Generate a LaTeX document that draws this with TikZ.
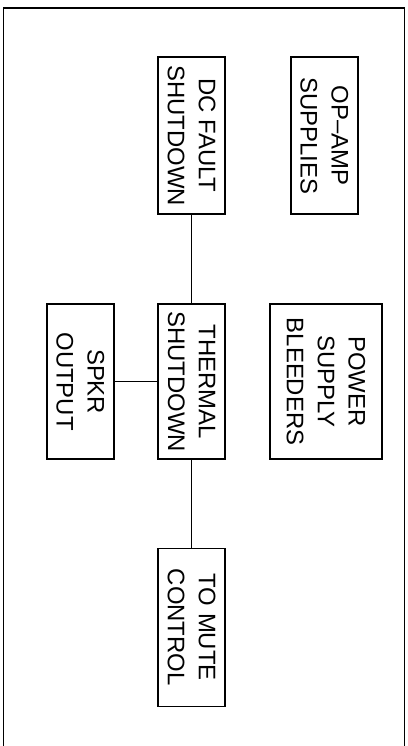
\documentclass[tikz,border=0pt]{standalone}
\usepackage{fontspec}
\setmainfont{Liberation Sans}
\usepackage{tikz}
\tikzset{
  blk/.style={draw,line width=0.9pt,rotate=-90,inner sep=0pt,align=center,
    minimum height=1.675cm,font=\fontsize{17}{22}\selectfont},
  wire/.style={line width=0.9pt}
}

\begin{document}
\begin{tikzpicture}
  \useasboundingbox (0,0) rectangle (10.2,-18.65);
  \draw[line width=1pt] (0.09,-18.8) -- (0.09,-0.2) -- (10.11,-0.2) -- (10.11,-18.8);
  \node[blk,minimum width=3.925cm] (dc) at (4.79,-3.39) {DC FAULT\\SHUTDOWN};
  \node[blk,minimum width=3.925cm] (opamp) at (8.11,-3.39) {OP--AMP\\SUPPLIES};
  \node[blk,minimum width=3.875cm] (therm) at (4.79,-9.54) {THERMAL\\SHUTDOWN};
  \node[blk,minimum width=3.875cm] (spkr) at (2.01,-9.54) {SPKR\\OUTPUT};
  \node[blk,minimum width=3.875cm,minimum height=2.8cm] (bleed) at (8.15,-9.54)
    {POWER\\SUPPLY\\BLEEDERS};
  \node[blk,minimum width=3.95cm] (mute) at (4.79,-15.68) {TO MUTE\\CONTROL};
  \draw[wire] (dc) -- (therm);
  \draw[wire] (spkr) -- (therm);
  \draw[wire] (therm) -- (mute);
\end{tikzpicture}
\end{document}
